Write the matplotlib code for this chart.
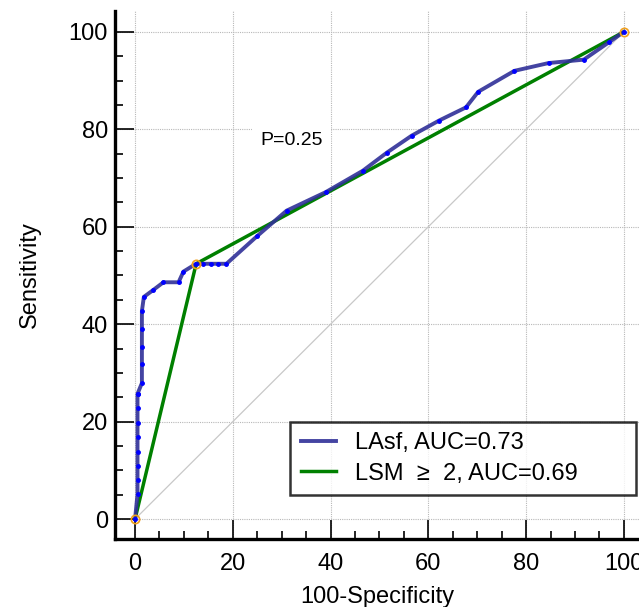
import matplotlib as mpl
mpl.use('Agg')
import matplotlib.pyplot as plt
from matplotlib.ticker import MultipleLocator

plt.rcParams['font.family'] = ['Liberation Sans', 'DejaVu Sans']

# ROC curve of LAsf (100-Specificity, Sensitivity)
lasf_x = [0, 0.5, 0.5, 0.5, 0.5, 0.5, 0.5, 0.5, 0.5, 0.5, 1.4, 1.4, 1.4, 1.4, 1.4,
          1.8, 3.7, 5.8, 8.9, 9.9, 12.5, 14.0, 15.5, 17.0, 18.7, 25.0, 31.0, 39.0,
          46.6, 51.5, 56.6, 62.2, 67.7, 70.2, 77.6, 84.6, 91.8, 97.0, 100]
lasf_y = [0, 5.1, 8.0, 10.9, 13.8, 16.9, 19.8, 22.7, 25.7, 25.7, 27.9, 31.8, 35.3, 39.0, 42.7,
          45.6, 47.0, 48.6, 48.6, 50.8, 52.4, 52.4, 52.4, 52.4, 52.4, 58.1, 63.3, 67.1,
          71.5, 75.2, 78.7, 81.8, 84.5, 87.7, 92.0, 93.6, 94.3, 97.9, 100]

# ROC of LSM >= 2 (single cut-off)
lsm_x = [0, 12.5, 100]
lsm_y = [0, 52.4, 100]

labels = ["LAsf, AUC=0.73", "LSM  \u2265  2, AUC=0.69"]
p_text = "P=0.25"

fig = plt.figure(figsize=(6.39, 6.07), dpi=100)
ax = fig.add_axes([0.18, 0.112, 0.82, 0.870])

ax.plot([0, 100], [0, 100], color='#c8c8c8', linewidth=0.9, zorder=2)
ax.plot(lsm_x, lsm_y, color='#008000', linewidth=2.5, zorder=3, label=labels[1])
ax.plot(lasf_x, lasf_y, color='#303098', linewidth=2.8, alpha=0.9, zorder=4, label=labels[0])
ax.plot(lasf_x, lasf_y, linestyle='none', marker='o', ms=2.5, color='#0000ff', zorder=5)
ax.plot(lsm_x, lsm_y, linestyle='none', marker='o', ms=6, mfc='none', mec='#f0a020',
        mew=1.2, zorder=6)

ax.set_xlim(-4.1, 103.1)
ax.set_ylim(-4.1, 104.3)
ax.xaxis.set_major_locator(MultipleLocator(20))
ax.xaxis.set_minor_locator(MultipleLocator(5))
ax.yaxis.set_major_locator(MultipleLocator(20))
ax.yaxis.set_minor_locator(MultipleLocator(5))
ax.tick_params(which='major', direction='in', length=14, width=1.2, labelsize=17)
ax.tick_params(axis='x', which='major', pad=10)
ax.tick_params(axis='y', which='major', pad=5)
ax.tick_params(which='minor', direction='in', length=6, width=1.2)
ax.grid(True, which='major', linestyle=(0, (1, 1)), color='#b8b8b8', linewidth=0.8)
ax.set_axisbelow(True)

for s in ['top', 'right']:
    ax.spines[s].set_visible(False)
for s in ['left', 'bottom']:
    ax.spines[s].set_linewidth(2.4)

ax.set_xlabel('100-Specificity', fontsize=17, labelpad=8)
ax.set_ylabel('Sensitivity', fontsize=17, labelpad=20)

ax.text(25.6, 77.8, p_text, fontsize=14, va='center', ha='left', zorder=3,
        bbox=dict(facecolor='white', edgecolor='none', pad=6))

h, l = ax.get_legend_handles_labels()
leg = ax.legend(h[::-1], l[::-1], loc='lower left', bbox_to_anchor=(0.334, 0.083, 0.66, 0.139),
                mode='expand', fontsize=17, frameon=True, fancybox=False, borderpad=0.45,
                handlelength=1.5, handletextpad=0.8, labelspacing=0.35, borderaxespad=0)
leg.get_frame().set_edgecolor('black')
leg.get_frame().set_linewidth(1.8)
leg.set_zorder(10)

plt.savefig('out.png', dpi=100)
